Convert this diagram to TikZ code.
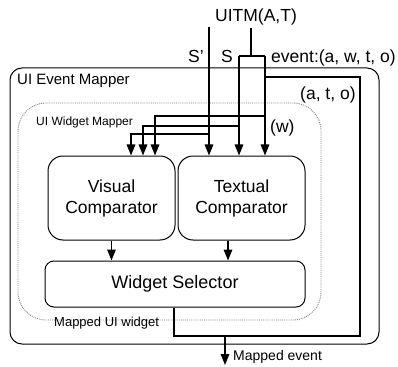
\documentclass[tikz,border=0pt]{standalone}
\usepackage{fontspec}
\setmainfont{Liberation Sans}
\usetikzlibrary{arrows.meta}
\begin{document}
\begin{tikzpicture}[x=1pt,y=-1pt,
  conn/.style={line width=1.6pt},
  arr/.style={conn,-{Triangle[length=11pt,width=8.5pt]}},
  boxst/.style={draw,line width=1pt,align=center,inner sep=0pt,
    font=\fontsize{17.5}{21}\selectfont},
  lbl/.style={inner sep=0pt,anchor=base west},
  big/.style={font=\fontsize{17.5}{21}\selectfont}]
\useasboundingbox (0,0) rectangle (398,366);
% containers
\draw[line width=1pt, rounded corners=12pt] (10,68) rectangle (379,344);
\draw[densely dotted, line width=0.9pt, gray, rounded corners=28pt] (18,103) rectangle (321,320);
% boxes
\node[boxst, rounded corners=15pt, minimum width=127pt, minimum height=84pt] (vis) at (111.5,198) {Visual\\Comparator};
\node[boxst, rounded corners=15pt, minimum width=127pt, minimum height=84pt] (tex) at (241.5,198) {Textual\\Comparator};
\node[boxst, rounded corners=9pt, minimum width=260pt, minimum height=46pt, font=\fontsize{18}{21}\selectfont] (sel) at (175,284) {Widget Selector};
% input coordinates
\coordinate (uitmb) at (251,28);
\coordinate (bar) at (251,56);
\coordinate (spTop) at (209,27);
\coordinate (rl) at (239,56);
\coordinate (rr) at (265,56);
\coordinate (j1) at (209,134);
\coordinate (j2) at (239,126);
\coordinate (j3) at (265,116);
\coordinate (atoA) at (265,77);
\coordinate (atoB) at (360,77);
\coordinate (atoC) at (360,336);
\coordinate (atoD) at (174,336);
\coordinate (me) at (225,336);
\coordinate (meEnd) at (225,365);
% connectors
\draw[conn] (uitmb) -- (bar);
\draw[conn] (rl) -- (rr);
\draw[arr] (spTop) -- (spTop |- tex.north);
\draw[arr] (rl) -- (rl |- tex.north);
\draw[arr] (rr) -- (rr |- tex.north);
\draw[arr] (j1) -| ([xshift=19.5pt]vis.north);
\draw[arr] (j2) -| ([xshift=31.5pt]vis.north);
\draw[arr] (j3) -| ([xshift=43.5pt]vis.north);
\draw[conn] (atoA) -- (atoB) -- (atoC) -- (atoD) -- (atoD |- sel.south);
\draw[arr] (me) -- (meEnd);
\draw[arr] (vis.south) -- (vis.south |- sel.north);
\draw[arr] ([xshift=-13.5pt]tex.south) -- ([xshift=-13.5pt]tex.south |- sel.north);
% labels
\node[lbl, big] (tuitm) at (215,22) {UITM(A,T)};
\node[lbl, big] (tsp) at (188,63) {S'};
\node[lbl, big] (ts) at (221,63) {S};
\node[lbl, big] (tev) at (271,63) {event:(a, w, t, o)};
\node[lbl, big] (tato) at (300,100) {(a, t, o)};
\node[lbl, big] (tw) at (270,132) {(w)};
\node[lbl, font=\fontsize{15}{18}\selectfont] (tuem) at (17,85) {UI Event Mapper};
\node[lbl, font=\fontsize{12}{14}\selectfont] (tuwm) at (36,126) {UI Widget Mapper};
\node[lbl, font=\fontsize{13}{15}\selectfont] (tmuw) at (54,326) {Mapped UI widget};
\node[lbl, font=\fontsize{14}{16}\selectfont] (tme) at (233,360) {Mapped event};
\end{tikzpicture}
\end{document}
